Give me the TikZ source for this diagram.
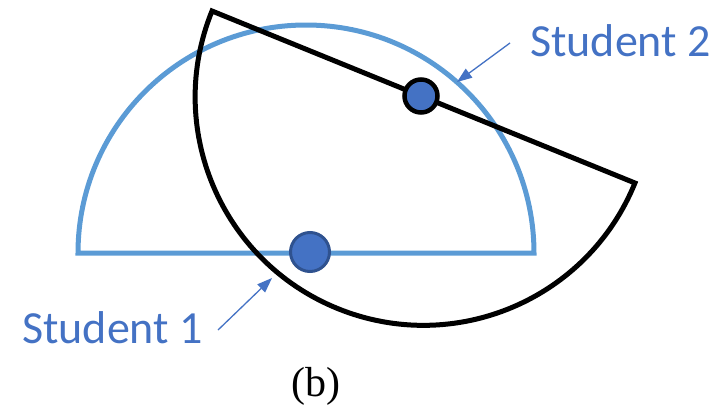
\documentclass[tikz,border=0pt]{standalone}
\usepackage{fontspec}
\setmainfont{Liberation Serif}
\newfontfamily\carlito{Carlito}
\usetikzlibrary{arrows.meta}
\definecolor{arcblue}{HTML}{5B9BD5}
\definecolor{txtblue}{HTML}{4472C4}
\definecolor{dotedge}{HTML}{2F528F}
\tikzset{
  bluearc/.style={draw=arcblue, line width=5pt, line join=miter},
  blackarc/.style={draw=black, line width=5pt, line join=miter},
  lbl/.style={inner sep=0pt, text=txtblue, font=\carlito\fontsize{46}{50}\selectfont},
  pointer/.style={draw=txtblue, line width=1.3pt, -{Triangle[length=15pt,width=11pt]}},
}
\begin{document}
\begin{tikzpicture}[x=1pt,y=1pt]
\useasboundingbox (0,0) rectangle (726,-407);
% blue semicircle
\draw[bluearc] (78,-253) arc[start angle=180, end angle=0, radius=228] -- cycle;
% black semicircle
\draw[blackarc] (212,-11) arc[start angle=157.87, end angle=337.87, radius=228.3] -- cycle;
% dots
\node[circle, minimum size=39pt, inner sep=0pt, fill=txtblue, draw=dotedge, line width=3pt] (d1) at (310,-252) {};
\node[circle, minimum size=33pt, inner sep=0pt, fill=txtblue, draw=black, line width=4.5pt] (d2) at (421,-96) {};
% labels
\node[lbl, anchor=base west] (s2) at (530,-56) {Student 2};
\node[lbl, anchor=base west] (s1) at (22,-343) {Student 1};
\node[inner sep=0pt, anchor=base, font=\fontsize{42}{46}\selectfont] (cap) at (316,-396) {(b)};
% arrows
\coordinate (t2) at (510,-43);
\coordinate (h2) at (457,-82);
\coordinate (t1) at (218,-330);
\coordinate (h1) at (272,-278);
\draw[pointer] (t2) -- (h2);
\draw[pointer] (t1) -- (h1);
\end{tikzpicture}
\end{document}
